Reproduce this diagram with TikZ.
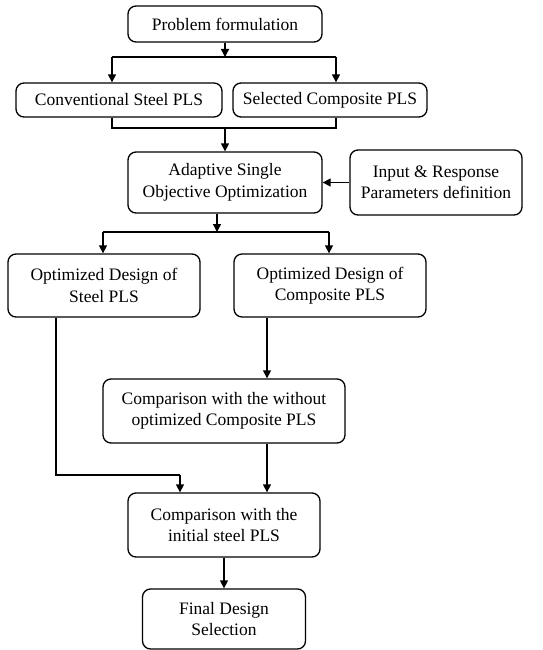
\documentclass[tikz,border=0pt]{standalone}
\usepackage{fontspec}
\setmainfont{Liberation Serif}
\usetikzlibrary{arrows.meta}
\begin{document}
\begin{tikzpicture}[x=1pt,y=-1pt,
  box/.style={draw,line width=1.3pt,rounded corners=8pt,align=center,inner sep=0pt,
    font=\fontsize{17.5}{21.5}\selectfont},
  ln/.style={line width=1.3pt},
  arr/.style={line width=1.3pt,-{Triangle[length=8pt,width=8pt]}}]
\useasboundingbox (0,0) rectangle (543,650);
\node[box,minimum width=194pt,minimum height=36pt] (pf) at (225,24) {Problem formulation};
\node[box,minimum width=206pt,minimum height=34pt] (conv) at (119,100) {Conventional Steel PLS};
\node[box,minimum width=194pt,minimum height=34pt] (sel) at (330,100) {Selected Composite PLS};
\node[box,minimum width=194pt,minimum height=61pt] (aso) at (225,182.5) {Adaptive Single\\Objective Optimization};
\node[box,minimum width=172pt,minimum height=65pt] (inp) at (436,182.5) {Input \& Response\\Parameters definition};
\node[box,minimum width=192pt,minimum height=63pt] (ods) at (104,285.5) {Optimized Design of\\Steel PLS};
\node[box,minimum width=192pt,minimum height=63pt] (odc) at (330,285.5) {Optimized Design of\\Composite PLS};
\node[box,minimum width=242pt,minimum height=64pt] (cwo) at (224,411) {Comparison with the without\\optimized Composite PLS};
\node[box,minimum width=192pt,minimum height=64pt] (cis) at (224,525) {Comparison with the\\initial steel PLS};
\node[box,minimum width=163pt,minimum height=60pt] (fds) at (224,619) {Final Design\\Selection};
% junctions
\coordinate (j1) at (225,57);
\coordinate (j1l) at (112,57);
\coordinate (j1r) at (336,57);
\coordinate (j2) at (225,128);
\coordinate (j2l) at (112,128);
\coordinate (j2r) at (336,128);
\coordinate (j3) at (217,232);
\coordinate (j3l) at (103,232);
\coordinate (j3r) at (329,232);
\coordinate (s1) at (56,475);
\coordinate (s2) at (180,475);
% connectors
\draw[arr] (pf.south) -- (j1);
\draw[ln] (j1l) -- (j1r);
\draw[arr] (j1l) -- (j1l |- conv.north);
\draw[arr] (j1r) -- (j1r |- sel.north);
\draw[ln] (j2l |- conv.south) -- (j2l) -- (j2r) -- (j2r |- sel.south);
\draw[arr] (j2) -- (j2 |- aso.north);
\draw[arr] (inp.west) -- (inp.west -| aso.east);
\draw[arr] (j3 |- aso.south) -- (j3);
\draw[ln] (j3l) -- (j3r);
\draw[arr] (j3l) -- (j3l |- ods.north);
\draw[arr] (j3r) -- (j3r |- odc.north);
\draw[arr] (267,0 |- odc.south) -- (267,0 |- cwo.north);
\draw[ln] (s1 |- ods.south) -- (s1) -- (s2);
\draw[arr] (s2) -- (s2 |- cis.north);
\draw[arr] (267,0 |- cwo.south) -- (267,0 |- cis.north);
\draw[arr] (cis.south) -- (fds.north);
\end{tikzpicture}
\end{document}
